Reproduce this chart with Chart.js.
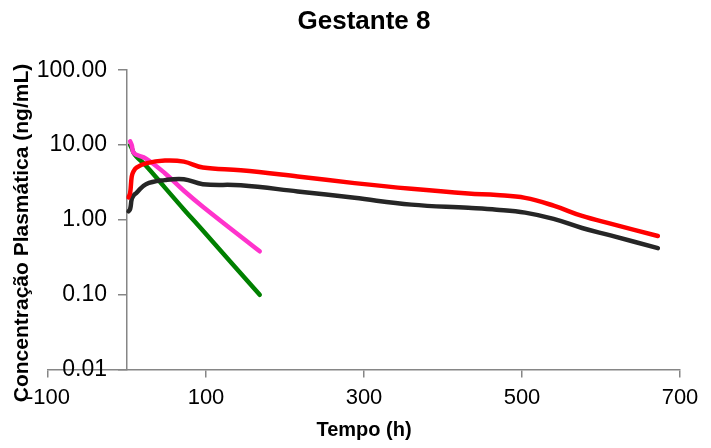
<!DOCTYPE html>
<html>
<head>
<meta charset="utf-8">
<script src="https://cdn.jsdelivr.net/npm/chart.js@4"></script>
<style>
  html, body { margin: 0; padding: 0; background: #fff; }
  #wrap { width: 711px; height: 448px; }
</style>
</head>
<body>
<div id="wrap"><canvas id="chart" width="711" height="448"></canvas></div>
<script>
// Data
const longTime = [2, 4, 6, 8, 12, 24, 48, 72, 96, 144, 216, 288, 360, 432, 468, 504, 540, 576, 612, 672];
const redConc = [2.0, 2.3, 3.8, 4.4, 5.0, 5.7, 6.2, 6.0, 5.0, 4.6, 3.8, 3.1, 2.6, 2.25, 2.15, 1.97, 1.55, 1.13, 0.89, 0.61];
const blackConc = [1.3, 1.4, 1.9, 2.1, 2.3, 3.0, 3.4, 3.5, 3.0, 2.9, 2.4, 1.97, 1.6, 1.45, 1.37, 1.25, 1.03, 0.78, 0.62, 0.42];

const shortTime = [4, 6, 8, 12, 24, 48, 72, 96, 168];
const pinkConc = [11.2, 10.0, 8.0, 7.4, 6.6, 4.2, 2.45, 1.5, 0.38];
const greenConc = [10.0, 9.1, 8.0, 7.0, 5.3, 2.7, 1.38, 0.72, 0.1];

const xTicks = [-100, 100, 300, 500, 700];
const yTicks = [0.01, 0.1, 1, 10, 100];

const toPoints = (xs, ys) => xs.map((x, i) => ({ x: x, y: ys[i] }));

const font = "'Liberation Sans', Arial, sans-serif";
const axisGray = '#868686';

// y axis title drawn rotated, centred where the original sits
const yTitlePlugin = {
  id: 'yTitle',
  afterDraw(chart) {
    const ctx = chart.ctx;
    ctx.save();
    ctx.translate(22, 233);
    ctx.rotate(-Math.PI / 2);
    ctx.font = 'bold 21px ' + font;
    ctx.fillStyle = '#000';
    ctx.textAlign = 'center';
    ctx.textBaseline = 'middle';
    ctx.fillText('Concentração Plasmática (ng/mL)', 0, 0);
    ctx.restore();
  }
};

// the y axis sits at x = 0, Chart.js puts its labels right on the line; move them off it
const yLabelGap = {
  id: 'yLabelGap',
  beforeDraw(chart) {
    chart.scales.y.getLabelItems().forEach(item => {
      if (!item._moved) {
        item.options.translation[0] -= 20;
        item._moved = true;
      }
    });
  }
};

const lineStyle = {
  pointRadius: 0,
  borderWidth: 4.5,
  tension: 0.4,
  borderCapStyle: 'round',
  borderJoinStyle: 'round',
  fill: false
};

new Chart(document.getElementById('chart'), {
  type: 'line',
  data: {
    datasets: [
      Object.assign({ label: 'Série 1', data: toPoints(longTime, redConc), borderColor: '#FF0000' }, lineStyle),
      Object.assign({ label: 'Série 2', data: toPoints(longTime, blackConc), borderColor: '#262626' }, lineStyle),
      Object.assign({ label: 'Série 3', data: toPoints(shortTime, pinkConc), borderColor: '#FF33CC' }, lineStyle),
      Object.assign({ label: 'Série 4', data: toPoints(shortTime, greenConc), borderColor: '#008000' }, lineStyle)
    ]
  },
  options: {
    responsive: false,
    animation: false,
    layout: { padding: { left: 48, right: 31, top: 0, bottom: 0 } },
    plugins: {
      legend: { display: false },
      tooltip: { enabled: false },
      title: {
        display: true,
        text: 'Gestante 8',
        color: '#000',
        font: { family: font, size: 26, weight: 'bold' },
        padding: { top: 6, bottom: 33 }
      }
    },
    scales: {
      x: {
        type: 'linear',
        min: -100,
        max: 700,
        afterBuildTicks: (scale) => { scale.ticks = xTicks.map(v => ({ value: v })); },
        grid: { drawOnChartArea: false, color: axisGray, tickLength: 8, lineWidth: 1.5 },
        border: { color: axisGray, width: 1.5 },
        ticks: {
          color: '#000',
          padding: 7,
          maxRotation: 0,
          font: { family: font, size: 22 },
          callback: (v) => String(v)
        },
        title: {
          display: true,
          text: 'Tempo (h)',
          color: '#000',
          font: { family: font, size: 20, weight: 'bold' },
          padding: { top: 0, bottom: 6 }
        }
      },
      y: {
        type: 'logarithmic',
        position: { x: 0 },
        min: 0.01,
        max: 100,
        afterBuildTicks: (scale) => { scale.ticks = yTicks.map(v => ({ value: v })); },
        grid: { drawOnChartArea: false, color: axisGray, tickLength: 8, lineWidth: 1.5 },
        border: { color: axisGray, width: 1.5 },
        ticks: {
          color: '#000',
          padding: 12,
          font: { family: font, size: 23 },
          callback: (v) => Number(v).toFixed(2)
        }
      }
    }
  },
  plugins: [yTitlePlugin, yLabelGap]
});
</script>
</body>
</html>
